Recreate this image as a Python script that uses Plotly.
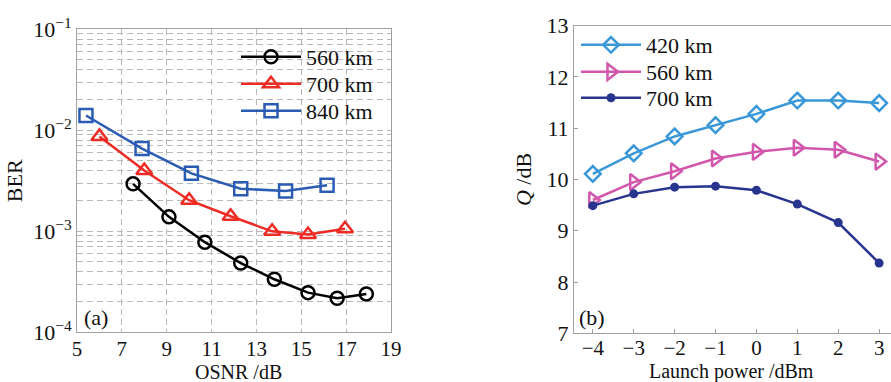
import plotly.graph_objects as go

# Panel (a): BER vs OSNR
osnr_560 = [7.5, 9.1, 10.7, 12.3, 13.8, 15.3, 16.6, 17.9]
ber_560 = [2.95e-3, 1.39e-3, 7.8e-4, 4.85e-4, 3.35e-4, 2.47e-4, 2.17e-4, 2.40e-4]
osnr_700 = [6.0, 8.0, 10.0, 11.85, 13.7, 15.3, 16.95]
ber_700 = [8.7e-3, 4.0e-3, 2.03e-3, 1.41e-3, 1.0e-3, 9.3e-4, 1.06e-3]
osnr_840 = [5.4, 7.9, 10.1, 12.3, 14.3, 16.15]
ber_840 = [1.40e-2, 6.6e-3, 3.75e-3, 2.64e-3, 2.51e-3, 2.85e-3]

# Panel (b): Q vs launch power
power = [-4, -3, -2, -1, 0, 1, 2, 3]
q_420 = [10.11, 10.51, 10.84, 11.06, 11.28, 11.54, 11.54, 11.49]
q_560 = [9.60, 9.95, 10.16, 10.41, 10.54, 10.62, 10.58, 10.35]
q_700 = [9.49, 9.72, 9.85, 9.87, 9.79, 9.52, 9.16, 8.37]

x_ticks_a = [5, 7, 9, 11, 13, 15, 17, 19]
y_ticks_a = [1e-4, 1e-3, 1e-2, 1e-1]
y_ticktext_a = ["10<sup>−4</sup>", "10<sup>−3</sup>", "10<sup>−2</sup>", "10<sup>−1</sup>"]
x_ticks_b = [-4, -3, -2, -1, 0, 1, 2, 3]
x_ticktext_b = ["−4", "−3", "−2", "−1", "0", "1", "2", "3"]
y_ticks_b = [7, 8, 9, 10, 11, 12, 13]

FONT = "Liberation Serif"
fig = go.Figure()

fig.add_trace(go.Scatter(x=osnr_560, y=ber_560, name="560 km", mode="lines+markers",
                         line=dict(color="#000000", width=2.5),
                         marker=dict(symbol="circle-open", size=13, line=dict(width=2.5, color="#000000")),
                         xaxis="x", yaxis="y", legend="legend"))
fig.add_trace(go.Scatter(x=osnr_700, y=ber_700, name="700 km", mode="lines+markers",
                         line=dict(color="#ee2b24", width=2.5),
                         marker=dict(symbol="triangle-up-open", size=14, line=dict(width=2.5, color="#ee2b24")),
                         xaxis="x", yaxis="y", legend="legend2"))
fig.add_trace(go.Scatter(x=osnr_840, y=ber_840, name="840 km", mode="lines+markers",
                         line=dict(color="#2a5cb4", width=2.5),
                         marker=dict(symbol="square-open", size=13, line=dict(width=2.5, color="#2a5cb4")),
                         xaxis="x", yaxis="y", legend="legend3"))

fig.add_trace(go.Scatter(x=power, y=q_420, name="420 km", mode="lines+markers",
                         line=dict(color="#3a98d8", width=2.5),
                         marker=dict(symbol="diamond-open", size=12, line=dict(width=2.5, color="#3a98d8")),
                         xaxis="x2", yaxis="y2", legend="legend4"))
fig.add_trace(go.Scatter(x=power, y=q_560, name="560 km", mode="lines+markers",
                         line=dict(color="#d257ac", width=2.5),
                         marker=dict(symbol="triangle-right-open", size=14, line=dict(width=2.5, color="#d257ac")),
                         xaxis="x2", yaxis="y2", legend="legend5"))
fig.add_trace(go.Scatter(x=power, y=q_700, name="700 km", mode="lines+markers",
                         line=dict(color="#28358f", width=2.5),
                         marker=dict(symbol="circle", size=9, color="#28358f"),
                         xaxis="x2", yaxis="y2", legend="legend6"))

grid_col = "#b8b8b8"
axis_col = "#a0a0a0"
DASH = "6px,4px"
tickfont = dict(family=FONT, size=22, color="#111")
xtickfont = dict(family=FONT, size=21, color="#111")
titlefont = dict(family=FONT, size=22, color="#111")
xtitlefont = dict(family=FONT, size=20, color="#111")


def leg(xpx, ypx):
    return dict(x=xpx/891, y=1-ypx/382, xanchor="left", yanchor="middle",
                bgcolor="rgba(255,255,255,0)", borderwidth=0,
                font=dict(family=FONT, size=22, color="#111"),
                itemwidth=60)


fig.update_layout(
    width=891, height=382,
    margin=dict(l=0, r=0, t=0, b=0, autoexpand=False),
    paper_bgcolor="white", plot_bgcolor="white",
    font=dict(family=FONT, size=20, color="#111"),
    xaxis=dict(domain=[77/891, 391/891], range=[5, 19], tickvals=x_ticks_a,
               showgrid=True, gridcolor=grid_col, griddash=DASH, gridwidth=1,
               showline=True, linecolor=axis_col, mirror=True, ticks="",
               zeroline=False, tickfont=xtickfont, ticklabelstandoff=-3, automargin=False,
               anchor="y"),
    yaxis=dict(domain=[1-332.3/382, 1-29.3/382], type="log", range=[-4, -1],
               tickvals=y_ticks_a, ticktext=y_ticktext_a,
               showgrid=True, gridcolor=grid_col, griddash=DASH, gridwidth=1,
               minor=dict(dtick="D1", showgrid=True, gridcolor=grid_col, griddash=DASH, ticks=""),
               showline=True, linecolor=axis_col, mirror=True, ticks="",
               zeroline=False, tickfont=tickfont, automargin=False,
               title=dict(text="BER", font=titlefont, standoff=4),
               anchor="x"),
    xaxis2=dict(domain=[574/891, 1.0], range=[-4.46, 3.29], tickvals=x_ticks_b, ticktext=x_ticktext_b,
                showgrid=False, showline=True, linecolor=axis_col, mirror=True,
                ticks="inside", ticklen=4, tickcolor=axis_col, zeroline=False, tickfont=xtickfont,
                ticklabelstandoff=-5, automargin=False,
                anchor="y2"),
    yaxis2=dict(domain=[1-333.3/382, 1-25.7/382], range=[7, 13], tickvals=y_ticks_b,
                showgrid=False, showline=True, linecolor=axis_col, mirror=False,
                ticks="inside", ticklen=4, tickcolor=axis_col, zeroline=False, tickfont=tickfont,
                automargin=False,
                title=dict(text="<i>Q</i> /dB", font=titlefont, standoff=8),
                anchor="x2"),
    legend=leg(236, 57),
    legend2=leg(236, 84),
    legend3=leg(236, 111),
    legend4=leg(576, 45),
    legend5=leg(576, 72),
    legend6=leg(576, 98),
    showlegend=True,
    shapes=[dict(type="rect", xref="paper", yref="paper", layer="between",
                 x0=240/891, x1=384/891, y0=1-124/382, y1=1-40/382,
                 fillcolor="white", line=dict(width=0))],
    annotations=[
        dict(text="OSNR /dB", x=238/891, y=-3/382, xref="paper", yref="paper",
             xanchor="center", yanchor="bottom", showarrow=False, font=xtitlefont),
        dict(text="Launch power /dBm", x=731/891, y=-3/382, xref="paper", yref="paper",
             xanchor="center", yanchor="bottom", showarrow=False, font=xtitlefont),
        dict(text="(a)", x=82/891, y=1-317/382, xref="paper", yref="paper",
             xanchor="left", yanchor="middle", showarrow=False,
             font=dict(family=FONT, size=22, color="#111")),
        dict(text="(b)", x=577/891, y=1-317/382, xref="paper", yref="paper",
             xanchor="left", yanchor="middle", showarrow=False,
             font=dict(family=FONT, size=22, color="#111")),
    ],
)

fig.write_html("out.html")
